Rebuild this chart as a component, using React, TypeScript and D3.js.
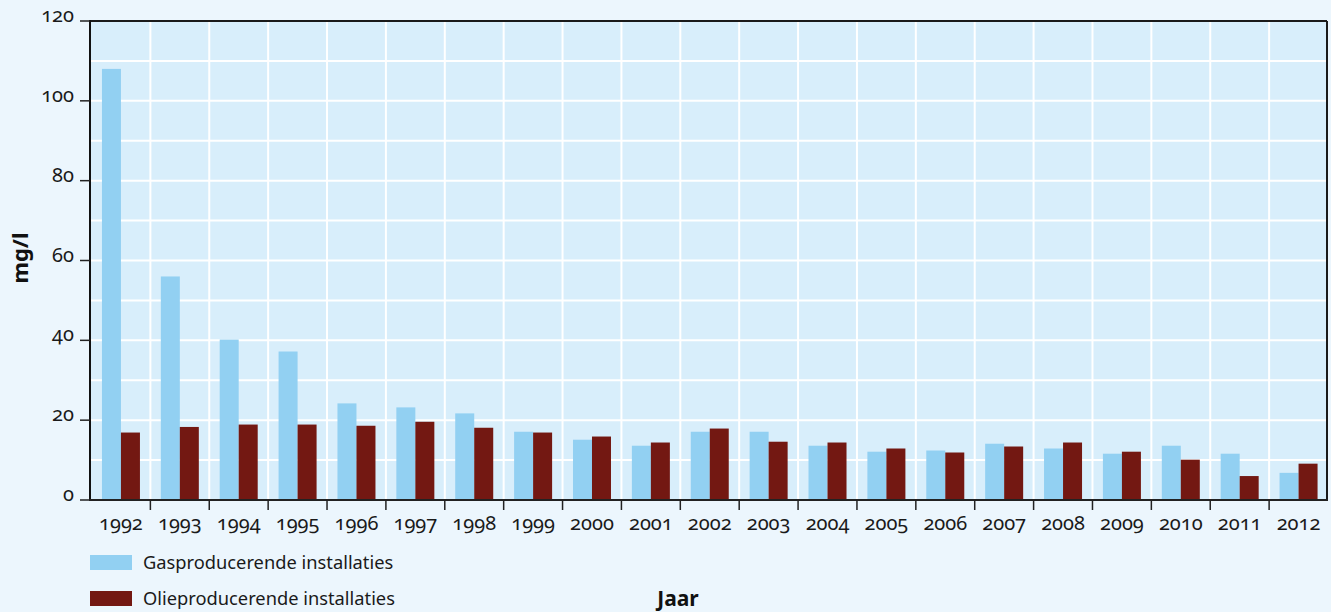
import React from "react";
import * as d3 from "d3";

const years = ["1992","1993","1994","1995","1996","1997","1998","1999","2000","2001","2002","2003","2004","2005","2006","2007","2008","2009","2010","2011","2012"];
const gasValues = [108, 56, 40.2, 37.2, 24.2, 23.2, 21.7, 17.1, 15.1, 13.6, 17.1, 17.1, 13.6, 12.1, 12.4, 14.1, 12.9, 11.6, 13.6, 11.6, 6.8];
const oilValues = [16.9, 18.3, 18.9, 18.9, 18.6, 19.6, 18.1, 16.9, 15.9, 14.4, 17.9, 14.6, 14.4, 12.9, 11.9, 13.4, 14.4, 12.1, 10.1, 6.0, 9.1];
const yTicks = [0, 20, 40, 60, 80, 100, 120];
const yGrid = [10, 20, 30, 40, 50, 60, 70, 80, 90, 100, 110];
const seriesNames = ["Gasproducerende installaties", "Olieproducerende installaties"];
const seriesColors = ["#92d0f2", "#731812"];

const W = 1331, H = 612;
const left = 90, right = 1327, top = 21, bottom = 500;
const font = "'Noto Sans', 'Open Sans', sans-serif";

export default function App() {
  const x = d3.scaleBand().domain(years).range([left + 1.5, right + 1]).paddingInner(0).paddingOuter(0);
  const y = d3.scaleLinear().domain([0, 120]).range([bottom, top]);
  const bw = 19;
  const groupOff = (x.bandwidth() - 2 * bw) / 2;

  return (
    <div style={{ position: "absolute", left: 0, top: 0, width: W, height: H }}>
      <svg width={W} height={H} style={{ display: "block", fontFamily: font }}>
        <rect x={0} y={0} width={W} height={H} fill="#ecf6fd" />
        <rect x={left} y={top} width={right - left} height={bottom - top} fill="#d8eefb" />
        {yGrid.map((v) => (
          <line key={"hg" + v} x1={left} x2={right} y1={y(v)} y2={y(v)} stroke="#ffffff" strokeWidth={2} />
        ))}
        {years.slice(1).map((yr) => (
          <line key={"vg" + yr} x1={x(yr)!} x2={x(yr)!} y1={top} y2={bottom} stroke="#ffffff" strokeWidth={2} />
        ))}
        {years.map((yr, i) => (
          <g key={"b" + yr}>
            <rect x={x(yr)! + groupOff} y={y(gasValues[i])} width={bw} height={bottom - y(gasValues[i])} fill={seriesColors[0]} />
            <rect x={x(yr)! + groupOff + bw} y={y(oilValues[i])} width={bw} height={bottom - y(oilValues[i])} fill={seriesColors[1]} />
          </g>
        ))}
        {/* frame */}
        <line x1={left} x2={right} y1={top} y2={top} stroke="#1a1a1a" strokeWidth={2} />
        <line x1={right} x2={right} y1={top} y2={bottom} stroke="#1a1a1a" strokeWidth={2} />
        <line x1={left} x2={left} y1={top - 1} y2={bottom + 1} stroke="#111" strokeWidth={2} />
        <line x1={left - 1} x2={right + 1} y1={bottom} y2={bottom} stroke="#222" strokeWidth={2} />
        {/* y ticks */}
        {yTicks.map((v) => (
          <g key={"yt" + v}>
            <line x1={left - 10} x2={left} y1={y(v)} y2={y(v)} stroke="#222" strokeWidth={1.5} />
            <text x={left - 16} y={y(v)} dy="0.05em" textAnchor="end" fontSize={20} fill="#1a1a1a" style={{ fontVariantNumeric: "oldstyle-nums" }}>{v}</text>
          </g>
        ))}
        {/* x ticks */}
        {years.slice(1).map((yr) => (
          <line key={"xt" + yr} x1={x(yr)!} x2={x(yr)!} y1={bottom} y2={bottom + 10} stroke="#222" strokeWidth={1.5} />
        ))}
        {years.map((yr) => (
          <text key={"xl" + yr} x={x(yr)! + x.bandwidth() / 2} y={530} textAnchor="middle" fontSize={20} fill="#1a1a1a" style={{ fontVariantNumeric: "oldstyle-nums" }}>{yr}</text>
        ))}
        {/* axis titles */}
        <text transform={`translate(28,258) rotate(-90)`} textAnchor="middle" fontSize={22} fontWeight="bold" fill="#111">mg/l</text>
        <text x={678} y={606} textAnchor="middle" fontSize={21} fontWeight="bold" fill="#111">Jaar</text>
        {/* legend */}
        {seriesNames.map((n, i) => (
          <g key={"lg" + i} transform={`translate(90,${555 + i * 36})`}>
            <rect x={0} y={0} width={42} height={15} fill={seriesColors[i]} />
            <text x={53} y={14} fontSize={18.3} fill="#1a1a1a">{n}</text>
          </g>
        ))}
      </svg>
    </div>
  );
}
